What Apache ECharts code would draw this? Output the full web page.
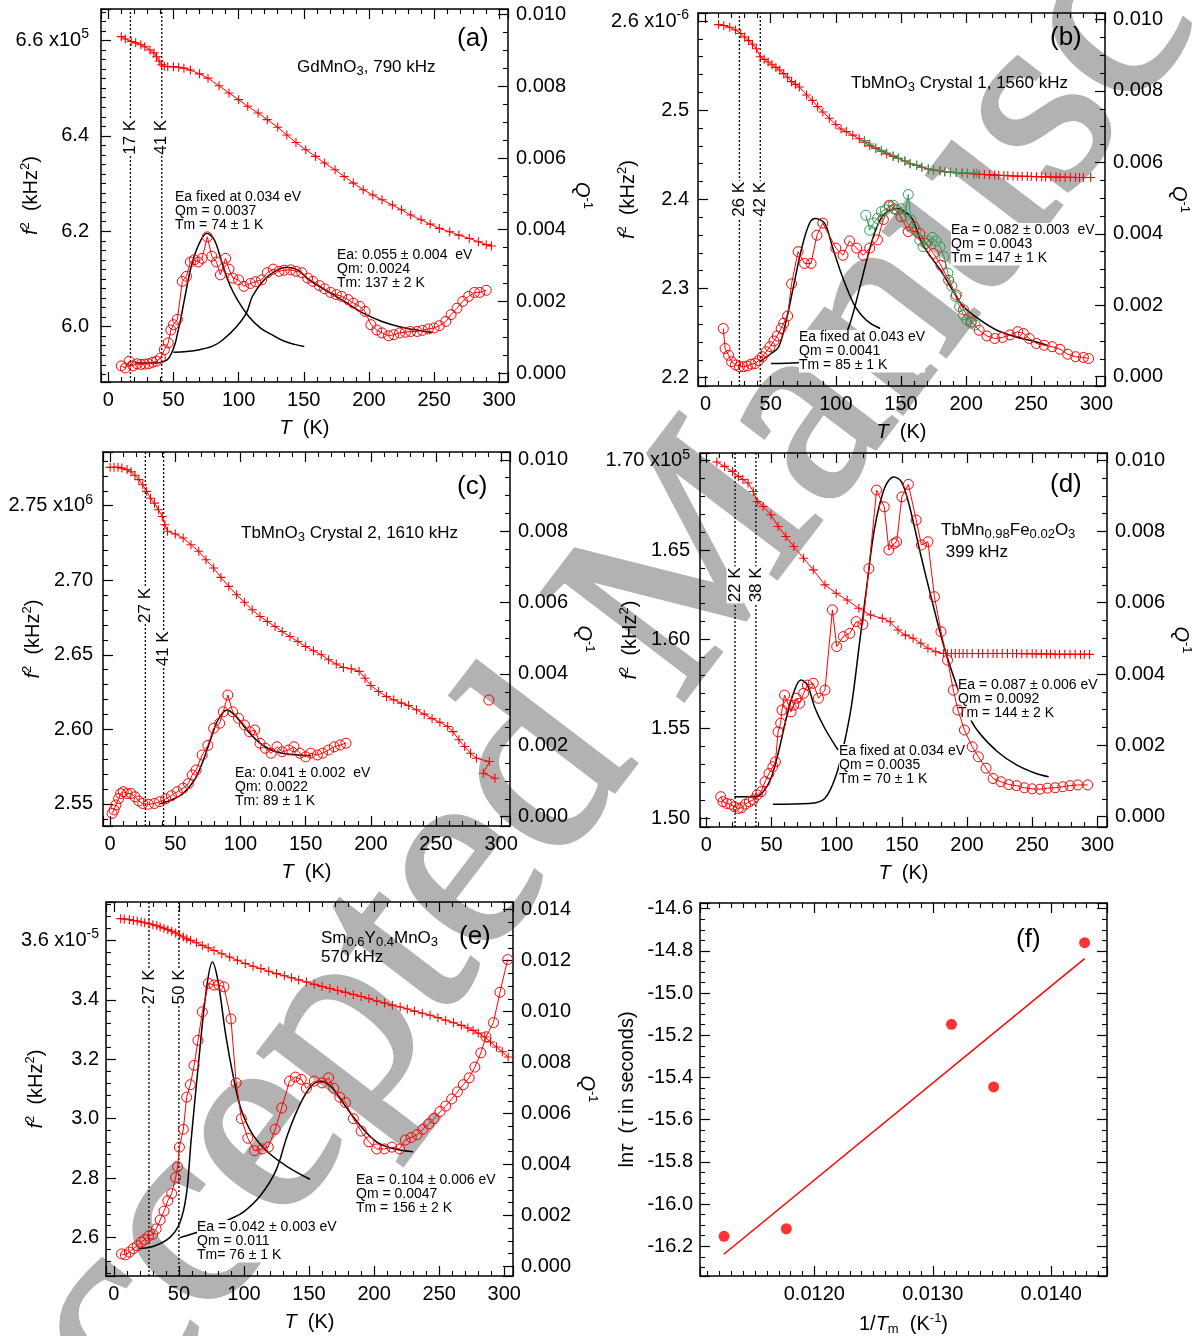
<!DOCTYPE html>
<html><head><meta charset="utf-8">
<script src="https://cdn.jsdelivr.net/npm/echarts@6/dist/echarts.min.js"></script>
<style>html,body{margin:0;padding:0;background:#fff}#c{width:1195px;height:1336px}</style>
</head><body><div id="c"></div>
<script>
// ---------------- DATA ----------------
// (a) GdMnO3, 790 kHz
const aF2 = [[10,6.608],[13,6.603],[17.6,6.598],[21,6.595],[25,6.591],[28,6.587],[32,6.580],[35,6.574],[37,6.566],[39,6.557],[41,6.549],[43,6.546],[45.6,6.545],[50,6.545],[54,6.544],[58,6.542],[63,6.538],[70,6.530],[76.5,6.521],[85,6.505],[92.6,6.490],[100,6.476],[107,6.462],[115,6.448],[122,6.434],[130,6.418],[137,6.402],[144,6.386],[151.5,6.371],[159,6.357],[166,6.343],[174,6.329],[181,6.315],[188,6.301],[195.6,6.287],[203,6.276],[210,6.266],[218,6.255],[225,6.245],[232,6.234],[240,6.224],[247,6.215],[254,6.206],[262,6.199],[269,6.192],[277,6.185],[284,6.178],[290,6.172],[294,6.169]];
const aQ = [[10,0.0002],[13,0.00014],[16,0.00033],[19,0.0002],[22,0.00026],[25,0.00024],[28,0.00025],[31,0.00026],[34,0.0003],[37,0.00033],[40,0.00042],[43,0.00065],[46,0.00084],[48,0.0012],[50,0.00135],[53,0.0015],[56.8,0.00256],[60,0.0027],[63,0.0031],[66,0.00316],[69,0.0031],[72,0.0032],[76,0.0038],[79.4,0.00326],[83,0.0031],[86,0.00274],[90,0.0032],[92.6,0.0029],[95.6,0.00265],[100,0.0026],[104,0.00242],[109,0.0025],[113,0.00255],[117.6,0.0026],[122,0.0028],[126.5,0.0029],[131,0.00284],[135,0.00287],[140,0.00288],[144,0.00284],[148.5,0.0028],[153,0.00265],[157,0.00256],[162,0.00244],[166,0.00235],[170.6,0.00225],[175,0.00219],[179,0.00214],[184,0.00205],[188,0.00195],[193,0.00186],[197,0.00172],[201.5,0.00135],[206,0.0012],[210,0.00112],[215,0.00104],[219,0.00107],[223.5,0.00112],[228,0.00114],[232,0.00116],[237,0.00116],[241,0.00119],[245.6,0.00123],[250,0.00126],[254,0.00132],[259,0.00144],[263,0.00163],[267.6,0.00181],[272,0.002],[276.5,0.00214],[281,0.00225],[285,0.00225],[290,0.00231]];
const aFit1 = [[20.5,0.00028],[30,0.00028],[37,0.00028],[41,0.00031],[45.3,0.00037],[48.6,0.00056],[51.4,0.00084],[53.2,0.00112],[55.5,0.00149],[58.4,0.00205],[63.8,0.003],[69.6,0.0036],[75.5,0.0039],[81.3,0.00372],[87.3,0.00307],[93.1,0.00247],[99,0.00205],[107.8,0.00158],[116.6,0.00126],[125.4,0.00107],[134.2,0.0009],[143,0.0008],[150.4,0.00074]];
const aFit2 = [[50,0.00058],[60,0.0006],[70,0.00065],[80,0.00075],[88,0.00093],[98.5,0.0013],[106,0.00168],[110.7,0.00215],[119.5,0.0026],[128,0.00284],[137,0.00295],[145.6,0.00287],[154,0.0026],[166,0.00233],[181,0.002],[195.6,0.00167],[210,0.00144],[225,0.00128],[240,0.00118],[248.5,0.00113]];
const aTrans = [17, 41];
const aTransLabelY = [6.397, 6.397];

// (b) TbMnO3 crystal 1, 1560 kHz
const bF2 = [[10,2.596],[14,2.595],[18.6,2.593],[23,2.590],[27,2.586],[30,2.582],[33,2.578],[36,2.574],[39,2.569],[42,2.560],[45,2.557],[48,2.554],[51,2.551],[54,2.548],[57,2.545],[60,2.541],[63,2.537],[66,2.532],[69,2.529],[72,2.526],[77.5,2.517],[82,2.511],[86,2.504],[90,2.498],[95,2.491],[100,2.484],[104,2.479],[108,2.476],[113,2.472],[118,2.468],[122,2.464],[126,2.460],[130.6,2.457],[135,2.454],[139,2.451],[144,2.448],[148,2.446],[153,2.443],[157,2.440],[162,2.438],[166,2.436],[171,2.434],[175,2.433],[180,2.432],[183.6,2.431],[188,2.4305],[192.5,2.430],[197,2.4295],[201,2.429],[206,2.4285],[210,2.428],[214,2.4278],[218,2.4275],[222,2.4272],[225,2.427],[229,2.4268],[232,2.4265],[236,2.4262],[239.6,2.426],[243,2.4259],[247,2.4258],[250,2.4256],[254,2.4255],[258,2.4253],[261,2.4252],[265,2.4251],[269,2.425],[272,2.4249],[276,2.4248],[280,2.4247],[284,2.4246],[287,2.4245],[290,2.4245],[295.6,2.4245]];
const bF2g = [[122,2.466],[126,2.462],[130.6,2.458],[135,2.455],[139,2.452],[144,2.449],[148,2.446],[153,2.443],[157,2.440],[162,2.4385],[166,2.436],[171,2.434],[175,2.433],[180,2.432],[183.6,2.431],[188,2.4305],[192.5,2.430],[197,2.4298],[201,2.4296],[206,2.4294],[208,2.4292]];
const bQ = [[13.6,0.00135],[15,0.00079],[17.7,0.0006],[20,0.00042],[23,0.00033],[26,0.00028],[29,0.00028],[32,0.0003],[35,0.00035],[38,0.00037],[40.7,0.00045],[43.6,0.00056],[46.6,0.0007],[49.5,0.00084],[52.5,0.001],[55,0.00114],[58,0.00135],[60,0.0015],[63,0.0017],[66,0.0026],[71,0.0035],[76,0.00317],[81,0.00317],[85.5,0.00396],[90,0.0043],[100,0.0036],[105.5,0.0034],[110.5,0.0038],[116,0.0036],[121,0.0034],[126,0.0036],[132,0.00383],[136.5,0.0044],[141,0.0048],[145,0.0047],[150,0.00448],[155.6,0.00406],[160,0.0042],[164.5,0.004],[169,0.00373],[175,0.00345],[180.7,0.00312],[186.6,0.0027],[192.5,0.00229],[198,0.00187],[204,0.00154],[210,0.0013],[216,0.00114],[222,0.00107],[228,0.0011],[233.7,0.00117],[239.6,0.00126],[244,0.00121],[248.5,0.00107],[254,0.00093],[260,0.00088],[266,0.00084],[272,0.00077],[278,0.00063],[284,0.00056],[290,0.00054],[294,0.00051]];
const bQg = [[123,0.00452],[126,0.0041],[129,0.0043],[132,0.00443],[135,0.00462],[138,0.00467],[141,0.00476],[144,0.0048],[147,0.00466],[150,0.0047],[153,0.00448],[155.6,0.0051],[157.7,0.00438],[161.5,0.0041],[164.5,0.00382],[167,0.00364],[171,0.0038],[174,0.0039],[177,0.0038],[180,0.00364],[183,0.00336],[186,0.0029],[189,0.00254],[192,0.00224],[195,0.00196],[198,0.00173],[200.7,0.00159],[203.6,0.0015],[207,0.00145]];
const bFit1 = [[41.5,0.00042],[50.3,0.00065],[56.2,0.00084],[62,0.00159],[67.9,0.0026],[73.8,0.0036],[79.7,0.00429],[84.1,0.00443],[91.4,0.00429],[97.3,0.00364],[103.2,0.00299],[109,0.00243],[114.9,0.00196],[120.8,0.00168],[126.6,0.00149],[134,0.00135]];
const bFit2 = [[50.3,0.00037],[70.9,0.00039],[85,0.00048],[95,0.00065],[103,0.00089],[110.5,0.00145],[117.9,0.00243],[123.7,0.00326],[129.6,0.00401],[135.5,0.00448],[141.4,0.00466],[147.2,0.00471],[153,0.00462],[159,0.0044],[165,0.00382],[171,0.00345],[180,0.003],[190,0.0024],[197,0.002],[209,0.00163],[223.6,0.0013],[238,0.00112],[253,0.00098],[261.8,0.00089]];
const bTrans = [26, 42];
const bTransLabelY = [2.4, 2.4];

// (c) TbMnO3 crystal 2, 1610 kHz
const cF2 = [[0,2.7757],[3,2.7757],[6,2.7757],[9,2.7752],[13,2.7742],[16,2.7727],[19,2.7704],[22,2.7675],[25,2.764],[28,2.7596],[31,2.755],[34,2.7517],[37,2.7473],[40,2.7428],[42,2.7372],[44,2.7328],[50,2.731],[56,2.7283],[62,2.7238],[68,2.7194],[73.5,2.7138],[79.4,2.7082],[85,2.7019],[91,2.6959],[97,2.6903],[103,2.6853],[109,2.6802],[115,2.6757],[120.6,2.6723],[126.5,2.669],[132,2.6656],[138,2.6623],[144,2.6589],[150,2.6556],[156,2.6527],[162,2.65],[167.6,2.6467],[173.5,2.6438],[179,2.6415],[185,2.6406],[191,2.6389],[195.6,2.6343],[200,2.6294],[206,2.6254],[212,2.622],[217.6,2.6198],[223.5,2.6176],[229,2.616],[235,2.6131],[241,2.6102],[247,2.6072],[253,2.6048],[259,2.6019],[263,2.5985],[267.6,2.593],[272,2.5885],[276.5,2.584],[281,2.5806],[291,2.5784],[286.3,2.5706],[295.2,2.5672]];
const cQ = [[1.5,0.00009],[3,0.00019],[4.4,0.00033],[6.5,0.00051],[8,0.00065],[10,0.0007],[13,0.00065],[16,0.00065],[19,0.00056],[22,0.00044],[25,0.00037],[29.4,0.00035],[34,0.00037],[38,0.00042],[42.6,0.0005],[47,0.00059],[51.5,0.0007],[56,0.0008],[60,0.00093],[63,0.00117],[66,0.00131],[70.6,0.00173],[75,0.002],[79.4,0.00248],[84,0.00262],[86.8,0.00294],[90.3,0.00341],[94,0.00294],[98.5,0.00276],[103,0.00257],[107,0.00238],[111,0.00243],[115,0.00206],[119,0.00192],[123.5,0.00178],[128,0.00196],[132,0.00182],[137,0.00187],[141,0.00196],[145.6,0.00178],[150,0.00168],[154,0.00178],[159,0.00173],[163,0.00178],[167.6,0.00187],[172,0.00196],[176.5,0.00201],[181,0.00206]];
const cQOut = [[290.6,0.00327]];
const cFit = [[38,0.00036],[47,0.00047],[56,0.00065],[64.7,0.00103],[70.6,0.0015],[76.5,0.0021],[82,0.00266],[87,0.00294],[90,0.00299],[94,0.0029],[100,0.00266],[106,0.00238],[115,0.00206],[123.5,0.00187],[132,0.00178],[144,0.00173],[154,0.00171]];
const cTrans = [27, 41];
const cTransLabelY = [2.6831, 2.654];

// (d) TbMn0.98Fe0.02O3, 399 kHz
const dF2 = [[8,1.6993],[14,1.6968],[20,1.694],[24.5,1.6912],[28,1.6895],[32,1.6875],[36,1.6828],[39,1.6772],[43.6,1.6744],[49.5,1.6697],[55,1.6632],[61,1.6576],[67,1.652],[74.6,1.6454],[82,1.6389],[91,1.6305],[99.6,1.6258],[108,1.622],[117,1.6174],[126,1.6136],[135,1.6118],[141,1.6099],[147,1.6052],[152.7,1.6024],[158.6,1.6006],[164.5,1.5978],[170,1.595],[176,1.5931],[182,1.5921],[185,1.5921],[188,1.5921],[191,1.5921],[194,1.5921],[197,1.5921],[200,1.5921],[204,1.5921],[208.7,1.5921],[212,1.5921],[216,1.5921],[220,1.5921],[223,1.5921],[227,1.5921],[231,1.5921],[235,1.5921],[238,1.5921],[242,1.592],[246,1.592],[250,1.592],[253,1.5919],[257,1.5919],[261,1.5918],[264,1.5918],[267.6,1.5917],[271,1.5917],[275,1.5917],[279,1.5917],[283,1.5917],[287,1.5916],[290,1.5916],[294,1.5916]];
const dQ = [[11,0.00056],[12.7,0.00042],[15.6,0.00037],[18.6,0.00035],[21.5,0.00028],[24.5,0.00023],[27,0.00025],[30,0.00035],[33,0.00042],[36,0.00047],[39,0.00061],[42,0.0007],[45,0.00098],[48,0.00121],[51,0.0014],[53,0.00154],[55,0.00238],[57,0.00262],[58,0.00299],[60,0.00341],[63,0.00313],[65,0.00294],[67,0.00313],[69,0.00332],[71.6,0.00318],[74.6,0.00346],[77.5,0.00369],[82,0.00374],[86,0.00332],[91,0.00355],[96.7,0.0058],[100,0.00477],[105,0.00505],[110,0.00514],[115,0.00547],[120,0.00539],[124.7,0.00696],[130.6,0.00916],[136.5,0.00869],[140,0.00748],[144,0.00766],[146,0.00771],[150,0.00897],[155,0.00932],[161,0.00832],[165,0.00762],[170,0.00771],[175,0.00617],[180,0.00519],[185,0.00439],[189.5,0.00355],[193,0.00299],[198,0.00243],[204,0.00196],[208.7,0.00168],[214.6,0.00136],[220,0.00107],[226,0.00098],[232,0.0009],[238,0.00087],[244,0.00081],[250,0.00078],[256,0.00077],[261.7,0.0008],[267.6,0.00081],[273.5,0.00084],[279,0.00087],[285,0.00089],[292.6,0.00089]];
const dFit1 = [[21.5,0.00056],[37.7,0.00056],[43.6,0.0007],[49.5,0.00107],[55.4,0.00182],[61.3,0.00276],[67.2,0.0035],[72.5,0.00383],[77.5,0.00369],[83.4,0.00304],[90.8,0.00248],[101,0.00187]];
const dFit2 = [[51,0.00035],[79,0.00037],[90.8,0.00051],[99.6,0.00117],[105.5,0.00201],[111.4,0.00313],[117.3,0.00481],[123.2,0.0065],[129,0.00808],[136.5,0.0092],[143.8,0.00953],[149.7,0.00939],[155.6,0.00874],[164.5,0.00734],[173.3,0.00603],[182,0.00481],[191,0.00379],[199.8,0.00294],[208.7,0.00238],[223.4,0.00182],[238,0.00145],[252.9,0.00121],[262.6,0.00112]];
const dTrans = [22, 38];
const dTransLabelY = [1.6305, 1.6305];

// (e) Sm0.6Y0.4MnO3, 570 kHz
const eF2 = [[5.3,3.673],[8,3.672],[12,3.6696],[15,3.667],[18,3.665],[21,3.662],[23.7,3.659],[27,3.656],[30,3.6527],[33,3.649],[35.6,3.645],[38.5,3.641],[41.5,3.636],[44.5,3.631],[47.5,3.625],[50.5,3.618],[53.4,3.611],[56,3.605],[59,3.6],[63.5,3.592],[68,3.583],[72.5,3.575],[77,3.566],[83,3.555],[89,3.544],[95,3.533],[101,3.522],[107,3.513],[113,3.505],[119,3.496],[125,3.488],[131,3.481],[136.5,3.474],[142,3.467],[148,3.46],[154,3.452],[160,3.445],[166,3.438],[172,3.431],[178,3.425],[184,3.418],[190,3.411],[196,3.404],[202,3.396],[208,3.389],[214,3.382],[220,3.376],[225.5,3.369],[231,3.362],[237,3.355],[243,3.348],[249,3.34],[255,3.331],[261,3.323],[267,3.314],[272,3.305],[276,3.297],[280,3.288],[285,3.275],[289.5,3.258],[294,3.241],[298.5,3.225],[303,3.2076]];
const eQ = [[6,0.00049],[9,0.00045],[12,0.00056],[15,0.0007],[18,0.00081],[21,0.00095],[23.7,0.00105],[26.7,0.00119],[30,0.00126],[32.6,0.00147],[35.6,0.00182],[38.6,0.00217],[41.5,0.00258],[44.5,0.00286],[47.5,0.00349],[49,0.00391],[50.4,0.00468],[53.4,0.00538],[56,0.00664],[58.8,0.00713],[61.7,0.00789],[64.7,0.00887],[68,0.00999],[72.7,0.01111],[77,0.01104],[80.7,0.01104],[84.6,0.01097],[90,0.00971],[94,0.0072],[98,0.0058],[103,0.00503],[108,0.00454],[114,0.00461],[118.7,0.00468],[124,0.00538],[129,0.00622],[135,0.00727],[139.5,0.00743],[144,0.00734],[148,0.00699],[154,0.00727],[160,0.0072],[165,0.0074],[169,0.00699],[173.6,0.00664],[178,0.00643],[184,0.0058],[190,0.00531],[196,0.00489],[202,0.00461],[208,0.00461],[213.6,0.00468],[219.6,0.00461],[224,0.00496],[228.5,0.00506],[233,0.00517],[237.4,0.00538],[242,0.00559],[246,0.0058],[250.7,0.00608],[255,0.00629],[259.6,0.00657],[264,0.00685],[268.5,0.00713],[273,0.0074],[277.4,0.00782],[282,0.00838],[286,0.00901],[291.7,0.00957],[296.7,0.01076],[302.6,0.01204]];
const eFit1 = [[19.4,0.0007],[30,0.00078],[42.7,0.00112],[50.5,0.00168],[55.7,0.0028],[59.3,0.00489],[65.3,0.0081],[71.2,0.0109],[75.7,0.01195],[80.1,0.01118],[86,0.00908],[92,0.0074],[97.9,0.00615],[106.8,0.00517],[118.7,0.00447],[133.5,0.00391],[150.7,0.00342]];
const eFit2 = [[50.5,0.00112],[60.6,0.00128],[70,0.00145],[80,0.00165],[89,0.00185],[100,0.00215],[112.8,0.00279],[124.6,0.00377],[133.5,0.00517],[142.4,0.00629],[151.3,0.00706],[158.8,0.00727],[166.8,0.00706],[175,0.0065],[184,0.00587],[192.9,0.00531],[201.8,0.00489],[210.7,0.00468],[219.6,0.00457],[230,0.0045]];
const eTrans = [27, 50];
const eTransLabelY = [3.443, 3.443];

// (f) ln tau vs 1/Tm
const fInvTm = [0.011238, 0.011764, 0.013158, 0.013514, 0.014282];
const fLnTau = [-16.153, -16.117, -15.148, -15.445, -14.761];
const fFitX = [0.011236, 0.014282];
const fFitY = [-16.238, -14.837];

// ---------------- STYLE / LAYOUT ----------------
const FONT = '"Liberation Sans", Arial, Helvetica, sans-serif';
const RED = '#ff0000', GREEN = '#2e9a5a';
const PLUS = 'path://M4.4,0H5.6V4.4H10V5.6H5.6V10H4.4V5.6H0V4.4H4.4Z';
const SUP = {fontSize: 14, verticalAlign: 'top', padding: [0, 0, 12, 0]};
const NAME_RICH = {i: {fontStyle: 'italic'}, sup: {fontSize: 13, verticalAlign: 'top', padding: [0, 0, 11, 0]}, sub: {fontSize: 13, verticalAlign: 'bottom', padding: [9, 0, 0, 0]}};

const isMult = (v, d) => Math.abs(v / d - Math.round(v / d)) < 1e-6;

const option = {backgroundColor: '#fff', animation: false, grid: [], xAxis: [], yAxis: [], series: [], graphic: []};

function baseAxis(o) {
  return Object.assign({
    type: 'value', splitLine: {show: false}, nameMoveOverlap: false,
    axisLine: {show: true, onZero: false, lineStyle: {color: '#000', width: 1.5}},
    axisTick: {show: true, inside: true, length: 10, lineStyle: {color: '#000', width: 1.2}},
    nameTextStyle: {fontSize: 20, fontFamily: FONT, color: '#000', rich: NAME_RICH},
  }, o);
}
function minor(n) { return {show: true, splitNumber: n, length: 5, lineStyle: {color: '#000', width: 1.1}}; }
function labelStyle(fmt, margin, show) {
  return {show: show !== false, fontSize: 20, fontFamily: FONT, color: '#000', margin: margin, formatter: fmt, rich: {sup: SUP}, hideOverlap: false};
}

function addPanel(p) {
  const gi = option.grid.length;
  option.grid.push(Object.assign({show: false, containLabel: false, outerBoundsMode: 'none'}, p.grid));
  const xb = option.xAxis.length;
  const xi = p.xInt || 50, xs = p.xSplit || 5;
  const xfmt = v => isMult(v, xi) ? v.toFixed(p.xDec || 0) : '';
  option.xAxis.push(baseAxis({gridIndex: gi, position: 'bottom', min: p.x[0], max: p.x[1], minInterval: xi, maxInterval: xi,
    minorTick: minor(xs), axisLabel: labelStyle(xfmt, 8), name: p.xName || '{i|T}  (K)', nameLocation: 'middle', nameGap: p.xNameGap || 36}));
  option.xAxis.push(baseAxis({gridIndex: gi, position: 'top', min: p.x[0], max: p.x[1], minInterval: xi, maxInterval: xi,
    minorTick: minor(xs), axisLabel: {show: false}}));
  const yl = option.yAxis.length;
  const lfmt = v => {
    if (!isMult(v, p.ylInt)) return '';
    const s = v.toFixed(p.ylDec);
    if (p.ylExp && s === p.ylTop) return s + ' x10{sup|' + p.ylExp + '}';
    return s;
  };
  option.yAxis.push(baseAxis({gridIndex: gi, position: 'left', min: p.yl[0], max: p.yl[1], minInterval: p.ylInt, maxInterval: p.ylInt,
    minorTick: minor(p.ylSplit), axisLabel: labelStyle(lfmt, p.ylMargin), name: p.ylName || '{i|f}{sup|2}  (kHz{sup|2})',
    nameLocation: 'middle', nameRotate: 90, nameGap: p.ylNameGap || 58}));
  if (p.yr) {
    const ri = p.yrInt || 0.002;
    const rfmt = v => isMult(v, ri) ? Math.abs(v).toFixed(3) : '';
    option.yAxis.push(baseAxis({gridIndex: gi, position: 'right', min: p.yr[0], max: p.yr[1], minInterval: ri, maxInterval: ri,
      minorTick: minor(4), axisLabel: labelStyle(rfmt, 8), name: '{i|Q}{sup|-1}', nameLocation: 'middle', nameRotate: -90, nameGap: p.yrNameGap || 62}));
  } else {
    option.yAxis.push(baseAxis({gridIndex: gi, position: 'right', min: p.yl[0], max: p.yl[1], minInterval: p.ylInt, maxInterval: p.ylInt,
      minorTick: minor(p.ylSplit), axisLabel: {show: false}}));
  }
  return {x: xb, yl: yl, yr: yl + 1, p: p};
}

function f2Series(ax, data, color) {
  option.series.push({type: 'line', xAxisIndex: ax.x, yAxisIndex: ax.yl, data: data, z: 4,
    symbol: PLUS, symbolSize: 9, itemStyle: {color: color || RED},
    lineStyle: {color: color || RED, width: 1}, silent: true});
}
function qSeries(ax, data, color, noLine) {
  const c = color || RED;
  option.series.push({type: 'line', xAxisIndex: ax.x, yAxisIndex: ax.yr, data: data, z: 4,
    symbol: 'circle', symbolSize: 10, itemStyle: {color: 'rgba(255,255,255,0)', borderColor: c, borderWidth: 1},
    lineStyle: {color: c, width: noLine ? 0 : 1}, silent: true});
}
function fitSeries(ax, data) {
  option.series.push({type: 'line', xAxisIndex: ax.x, yAxisIndex: ax.yr, data: data, z: 2, smooth: 0.35,
    symbol: 'none', lineStyle: {color: '#000', width: 1.5}, silent: true});
}
function transSeries(ax, temps, labY) {
  const y0 = ax.p.yl[0], y1 = ax.p.yl[1];
  temps.forEach((t, k) => {
    option.series.push({type: 'line', xAxisIndex: ax.x, yAxisIndex: ax.yl, data: [[t, y0], [t, y1]], z: 1,
      symbol: 'none', lineStyle: {color: '#000', width: 1.3, type: [2, 2]}, silent: true});
    option.series.push({type: 'scatter', xAxisIndex: ax.x, yAxisIndex: ax.yl, data: [[t, labY[k]]], z: 5,
      symbolSize: 1, itemStyle: {color: '#fff', opacity: 1}, silent: true,
      label: {show: true, position: 'inside', rotate: 90, formatter: t + ' K', fontSize: 17, fontFamily: FONT, color: '#000',
        opacity: 1, textBorderWidth: 0, backgroundColor: '#fff', padding: [0, 1]}});
  });
}

const A = addPanel({grid: {left: 101, top: 9, width: 407, height: 373}, x: [-5.6, 306.7], yl: [5.884, 6.666], ylInt: 0.2, ylSplit: 10, ylDec: 1, ylTop: '6.6', ylExp: '5', ylMargin: 12, yr: [-0.00025, 0.01016]});
const B = addPanel({grid: {left: 698, top: 13, width: 407, height: 373}, x: [-5.8, 306.6], yl: [2.1907, 2.609], ylInt: 0.1, ylSplit: 5, ylDec: 1, ylTop: '2.6', ylExp: '-6', ylMargin: 9, yr: [-0.00026, 0.01018]});
const C = addPanel({grid: {left: 103, top: 452, width: 407, height: 374}, x: [-5.5, 306.8], yl: [2.5352, 2.786], ylInt: 0.05, ylSplit: 5, ylDec: 2, ylTop: '2.75', ylExp: '6', ylMargin: 10, yr: [-0.00026, 0.01022]});
const D = addPanel({grid: {left: 700, top: 453, width: 407, height: 374}, x: [-4.9, 307.4], yl: [1.495, 1.7043], ylInt: 0.05, ylSplit: 5, ylDec: 2, ylTop: '1.70', ylExp: '5', ylMargin: 10, yr: [-0.00029, 0.0102]});
const E = addPanel({grid: {left: 106, top: 902, width: 407, height: 374}, x: [-6, 306.7], yl: [2.4708, 3.729], ylInt: 0.2, ylSplit: 5, ylDec: 1, ylTop: '3.6', ylExp: '-5', ylMargin: 7, yr: [-0.000377, 0.0143]});
const F = addPanel({grid: {left: 700, top: 903, width: 407, height: 373}, x: [0.011035, 0.014471], xInt: 0.001, xSplit: 10, xDec: 4,
  xName: '1/{i|T}{sub|m}  (K{sup|-1})', yl: [-16.341, -14.573], ylInt: 0.2, ylSplit: 4, ylDec: 1, ylMargin: 7,
  ylName: 'ln{i|τ}  ({i|τ} in seconds)', ylNameGap: 63});

// panel (a)
f2Series(A, aF2); qSeries(A, aQ); fitSeries(A, aFit1); fitSeries(A, aFit2); transSeries(A, aTrans, aTransLabelY);
// panel (b)
f2Series(B, bF2); f2Series(B, bF2g, GREEN); qSeries(B, bQ); qSeries(B, bQg, GREEN);
fitSeries(B, bFit1); fitSeries(B, bFit2); transSeries(B, bTrans, bTransLabelY);
// panel (c)
f2Series(C, cF2); qSeries(C, cQ); qSeries(C, cQOut, RED, true); fitSeries(C, cFit); transSeries(C, cTrans, cTransLabelY);
// panel (d)
f2Series(D, dF2); qSeries(D, dQ); fitSeries(D, dFit1); fitSeries(D, dFit2); transSeries(D, dTrans, dTransLabelY);
// panel (e)
f2Series(E, eF2); qSeries(E, eQ); fitSeries(E, eFit1); fitSeries(E, eFit2); transSeries(E, eTrans, eTransLabelY);
// panel (f)
option.series.push({type: 'line', xAxisIndex: F.x, yAxisIndex: F.yl, data: fFitX.map((x, i) => [x, fFitY[i]]), z: 3,
  symbol: 'none', lineStyle: {color: RED, width: 1.5}, silent: true});
option.series.push({type: 'scatter', xAxisIndex: F.x, yAxisIndex: F.yl, data: fInvTm.map((x, i) => [x, fLnTau[i]]), z: 4,
  symbol: 'circle', symbolSize: 11, itemStyle: {color: RED}, silent: true});

// ---------------- TEXT ----------------
const SUBR = {sub: {fontSize: 13, verticalAlign: 'bottom', padding: [8, 0, 0, 0]}};
function txt(x, y, text, size, vAlign, extra) {
  option.graphic.push({type: 'text', x: x, y: y, z: 3, silent: true,
    style: Object.assign({text: text, fontSize: size, fontFamily: FONT, fill: '#000', verticalAlign: vAlign || 'middle', rich: SUBR}, extra || {})});
}
const ANNO = {lineHeight: 14.2, backgroundColor: '#fff'};
// panel letters
txt(457, 39, '(a)', 26); txt(1050, 38, '(b)', 26); txt(457, 487, '(c)', 26);
txt(1050, 485, '(d)', 26); txt(459, 937, '(e)', 26); txt(1016, 940, '(f)', 26);
// sample labels
txt(297, 67, 'GdMnO{sub|3}, 790 kHz', 17);
txt(851, 83, 'TbMnO{sub|3} Crystal 1, 1560 kHz', 17);
txt(241, 533, 'TbMnO{sub|3} Crystal 2, 1610 kHz', 17);
txt(941, 530, 'TbMn{sub|0.98}Fe{sub|0.02}O{sub|3}', 17);
txt(941, 552, ' 399 kHz', 17);
txt(321, 938, 'Sm{sub|0.6}Y{sub|0.4}MnO{sub|3}', 17);
txt(321, 957, '570 kHz', 17);
// fit annotations
txt(175, 190, 'Ea fixed at 0.034 eV\nQm = 0.0037\nTm = 74 ± 1 K', 14, 'top', ANNO);
txt(337, 248, 'Ea: 0.055 ± 0.004  eV\nQm: 0.0024\nTm: 137 ± 2 K', 14, 'top', ANNO);
txt(951, 223, 'Ea = 0.082 ± 0.003  eV\nQm = 0.0043\nTm = 147 ± 1 K', 14, 'top', ANNO);
txt(799, 330, 'Ea fixed at 0.043 eV\nQm = 0.0041\nTm = 85 ± 1 K', 14, 'top', ANNO);
txt(235, 766, 'Ea: 0.041 ± 0.002  eV\nQm: 0.0022\nTm: 89 ± 1 K', 14, 'top', ANNO);
txt(958, 678, 'Ea = 0.087 ± 0.006 eV\nQm = 0.0092\nTm = 144 ± 2 K', 14, 'top', ANNO);
txt(839, 744, 'Ea fixed at 0.034 eV\nQm = 0.0035\nTm = 70 ± 1 K', 14, 'top', ANNO);
txt(356, 1173, 'Ea = 0.104 ± 0.006 eV\nQm = 0.0047\nTm = 156 ± 2 K', 14, 'top', ANNO);
txt(197, 1220, 'Ea = 0.042 ± 0.003 eV\nQm = 0.011\nTm= 76 ± 1 K', 14, 'top', ANNO);
// watermark
option.graphic.push({type: 'text', x: 666, y: 606, rotation: 0.92, z: -10, silent: true,
  style: {text: 'Accepted Manuscript', fontSize: 272, fontFamily: '"Liberation Serif", "Times New Roman", serif',
    fill: '#b2b2b2', stroke: '#b2b2b2', lineWidth: 4, align: 'center', verticalAlign: 'middle'}});

const chart = echarts.init(document.getElementById('c'), null, {renderer: 'canvas', width: 1195, height: 1336});
chart.setOption(option);
</script>
</body></html>
